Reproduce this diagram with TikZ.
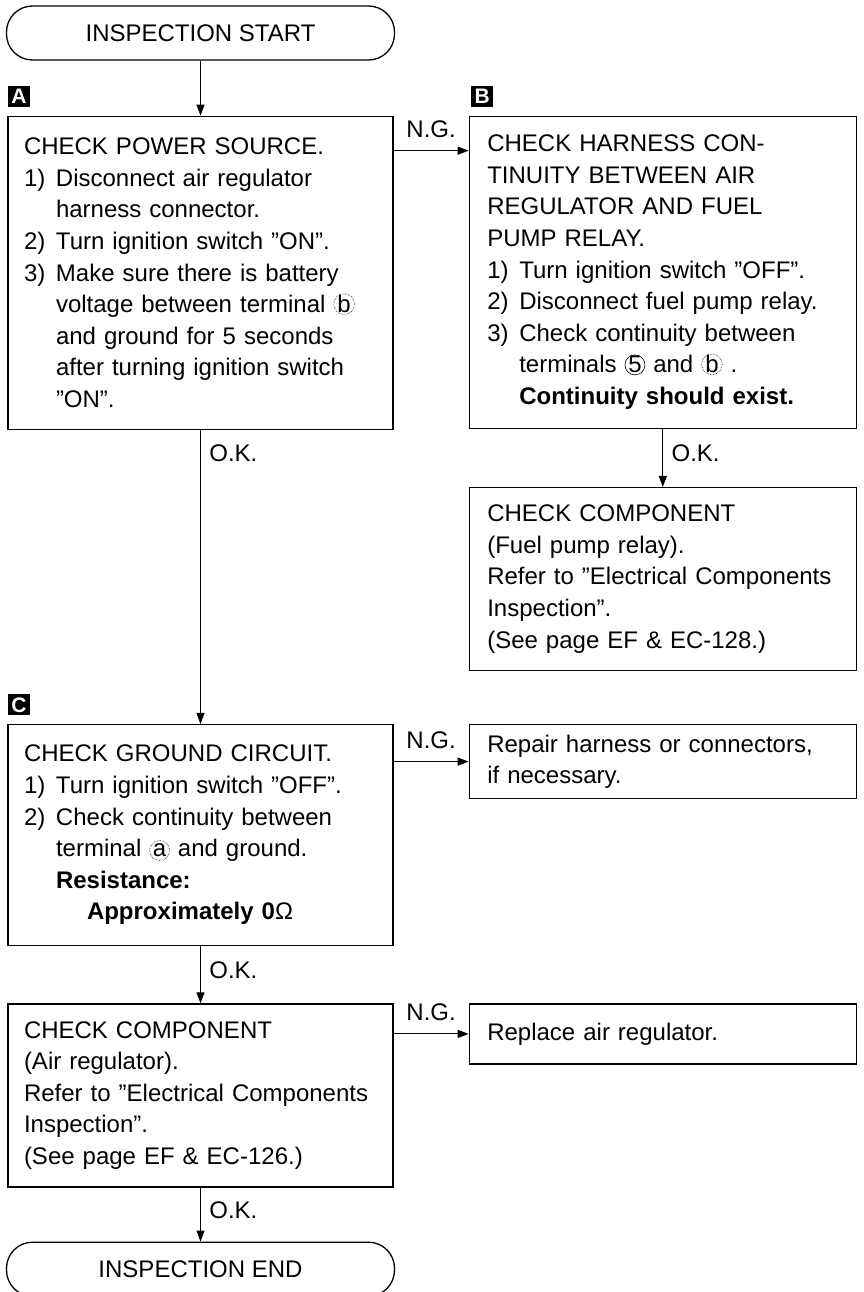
\documentclass[tikz,border=0pt]{standalone}
\usepackage{fontspec}
\setmainfont{Liberation Sans}
\usetikzlibrary{arrows.meta,positioning,calc}

% numbered step with hanging indent
\newcommand{\stepno}[1]{\makebox[32pt][l]{#1}}
% terminal sign (letter or number in a small circle)
\newcommand{\termmark}[2][densely dotted]{\tikz[baseline=(tm.base)]\node[draw, circle, #1, line width=.6pt, inner sep=-.5pt, minimum size=20pt] (tm) {#2};}

\begin{document}
\begin{tikzpicture}[
    x=1pt, y=-1pt,
    >={Triangle[length=11pt,width=8pt]},
    font=\fontsize{24}{31.6}\selectfont,
    line width=1pt,
    lbox/.style={draw, line width=1.3pt, align=left, inner xsep=16pt, text width=353pt, minimum width=385pt},
    rbox/.style={draw, line width=1.3pt, align=left, inner xsep=18pt, text width=351pt, minimum width=387pt},
    term/.style={draw, line width=1.3pt, rounded corners=26pt, minimum width=388pt, minimum height=54pt},
    marker/.style={fill=black, text=white, font=\bfseries\fontsize{21}{21}\selectfont, minimum width=22pt, minimum height=21pt, inner sep=0pt},
    oklbl/.style={anchor=west, xshift=5pt},
    nglbl/.style={above=9pt}
]
\useasboundingbox (0,0) rectangle (863,1292);

\node[term] (start) at (200.5,33) {INSPECTION START};

% left column
\node[lbox, minimum height=313pt, below=55pt of start] (a) {CHECK POWER SOURCE.\\
\stepno{1)}Disconnect air regulator\\
\stepno{}harness connector.\\
\stepno{2)}Turn ignition switch ''ON''.\\
\stepno{3)}Make sure there is battery\\
\stepno{}voltage between terminal \termmark{b}\\
\stepno{}and ground for 5 seconds\\
\stepno{}after turning ignition switch\\
\stepno{}''ON''.};
\node[lbox, minimum height=221pt, below=294pt of a] (c) {CHECK GROUND CIRCUIT.\\
\stepno{1)}Turn ignition switch ''OFF''.\\
\stepno{2)}Check continuity between\\
\stepno{}terminal \termmark{a} and ground.\\
\stepno{}\textbf{Resistance:}\\
\stepno{}\hspace{31pt}\textbf{Approximately 0}Ω};
\node[lbox, minimum height=183pt, below=57pt of c] (d) {CHECK COMPONENT\\
(Air regulator).\\
Refer to ''Electrical Components\\
Inspection''.\\
(See page EF \& EC-126.)};
\node[term, below=54pt of d] (end) {INSPECTION END};

% right column
\node[rbox, minimum height=312pt, right=75pt of a.north east, anchor=north west] (b) {CHECK HARNESS CON-\\
TINUITY BETWEEN AIR\\
REGULATOR AND FUEL\\
PUMP RELAY.\\
\stepno{1)}Turn ignition switch ''OFF''.\\
\stepno{2)}Disconnect fuel pump relay.\\
\stepno{3)}Check continuity between\\
\stepno{}terminals \termmark[solid]{5} and \termmark{b} .\\
\stepno{}\textbf{Continuity should exist.}};
\node[rbox, minimum height=183pt, below=58pt of b] (fuel) {CHECK COMPONENT\\
(Fuel pump relay).\\
Refer to ''Electrical Components\\
Inspection''.\\
(See page EF \& EC-128.)};
\node[rbox, minimum height=74pt, right=75pt of c.north east, anchor=north west] (repair) {Repair harness or connectors,\\
if necessary.};
\node[rbox, minimum height=60pt, right=75pt of d.north east, anchor=north west] (replace) {Replace air regulator.};

% section markers
\node[marker, above right=8pt and 0pt of a.north west] (ma) {A};
\node[marker, above right=8pt and 2pt of b.north west] (mb) {B};
\node[marker, above right=8pt and 0pt of c.north west] (mc) {C};

% connectors
\coordinate[below=35pt of a.north east] (ngA);
\draw[->] (start) -- (a);
\draw[->] (ngA) -- node[nglbl] {N.G.} (ngA -| b.west);
\draw[->] (a) -- node[oklbl, pos=.08] {O.K.} (c);
\draw[->] (b) -- node[oklbl, pos=.42] {O.K.} (fuel);
\draw[->] (c.east |- repair) -- node[nglbl] {N.G.} (repair);
\draw[->] (c) -- node[oklbl, pos=.42] {O.K.} (d);
\draw[->] (d.east |- replace) -- node[nglbl] {N.G.} (replace);
\draw[->] (d) -- node[oklbl, pos=.42] {O.K.} (end);
\end{tikzpicture}
\end{document}
